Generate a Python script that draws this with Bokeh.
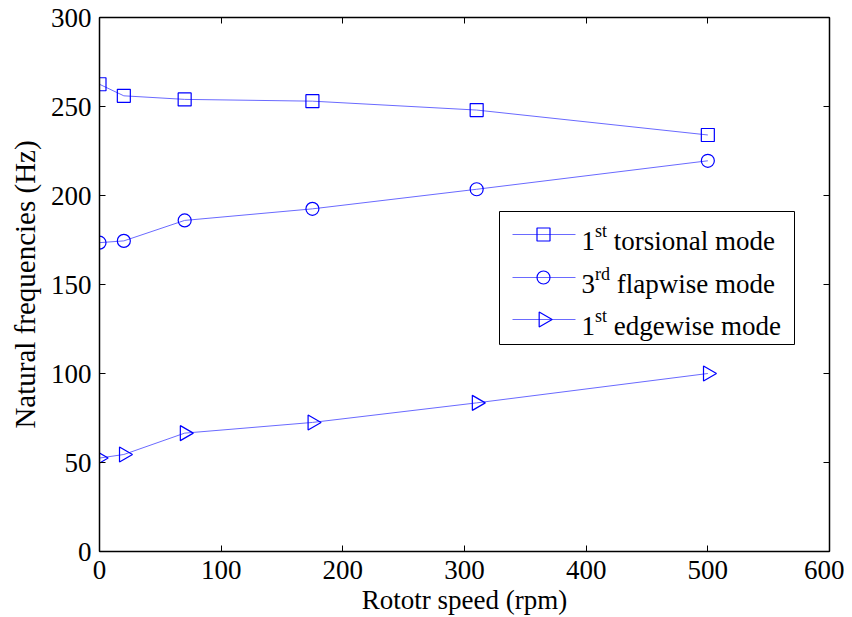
import numpy as np
from bokeh.plotting import figure
from bokeh.models import LinearAxis, FixedTicker, Range1d
from bokeh.core.properties import value
from bokeh.embed import file_html
from bokeh.resources import INLINE

# ---- data ----
speed = [0, 20, 70, 175, 310, 500]
torsional = [262.5, 256, 254, 253, 248, 234]
flapwise = [173.5, 174.5, 186, 192.5, 203.5, 219.5]
edgewise = [52.5, 54.5, 66.5, 72.5, 83.5, 100]
legend_num = ["1", "3", "1"]
legend_sup = ["st", "rd", "st"]
legend_txt = ["torsional mode", "flapwise mode", "edgewise mode"]
x_ticks = [0, 100, 200, 300, 400, 500, 600]
y_ticks = [0, 50, 100, 150, 200, 250, 300]

# ---- style ----
FONT = "Liberation Serif"
FS = 27
SUP_FS = 18
LINE = "#6a6aff"
MARK = "#0000ff"
X0, X1, Y0, Y1 = 0, 600, 0, 300
FW, FH = 730, 534  # frame size in px

p = figure(frame_width=FW, frame_height=FH, output_backend="svg", toolbar_location=None,
           x_range=Range1d(X0, X1), y_range=Range1d(Y0, Y1),
           min_border_left=99, min_border_top=17, min_border_right=15, min_border_bottom=40)
p.xgrid.visible = False
p.ygrid.visible = False
p.outline_line_color = "black"
p.outline_line_width = 1
p.background_fill_color = "white"
p.border_fill_color = "white"

for ax in p.axis:
    ax.major_label_text_font = FONT
    ax.major_label_text_font_size = f"{FS}px"
    ax.major_label_text_color = "black"
    ax.axis_label_text_font = FONT
    ax.axis_label_text_font_size = f"{FS}px"
    ax.axis_label_text_font_style = "normal"
    ax.axis_label_text_color = "black"
    ax.major_tick_in = 6
    ax.major_tick_out = 0
    ax.minor_tick_line_color = None
    ax.axis_line_color = "black"
    ax.axis_line_width = 1.5
    ax.major_tick_line_color = "black"

p.xaxis.ticker = FixedTicker(ticks=x_ticks)
p.yaxis.ticker = FixedTicker(ticks=y_ticks)
p.xaxis.axis_label = "Rototr speed (rpm)"
p.yaxis.axis_label = "Natural frequencies (Hz)"
p.yaxis.axis_label_text_font_size = "29px"
p.xaxis.major_label_standoff = 9
p.yaxis.major_label_standoff = 8
p.xaxis.axis_label_standoff = 3
p.yaxis.axis_label_standoff = 7

for loc, ticks in (("above", x_ticks), ("right", y_ticks)):
    ax = LinearAxis(ticker=FixedTicker(ticks=ticks), major_label_text_font_size="0px",
                    major_tick_in=6, major_tick_out=0, minor_tick_line_color=None,
                    axis_line_color="black", axis_line_width=1.5, major_label_standoff=0)
    ax.major_label_text_color = None
    p.add_layout(ax, loc)

# ---- data series ----
p.line(speed, torsional, line_color=LINE, line_width=1)
p.scatter(speed, torsional, marker="square", size=13, fill_color=None, line_color=MARK, line_width=1.2)
p.line(speed, flapwise, line_color=LINE, line_width=1)
p.scatter(speed, flapwise, marker="circle", size=13, fill_color=None, line_color=MARK, line_width=1.2)
p.line(speed, edgewise, line_color=LINE, line_width=1)
p.scatter(speed, edgewise, marker="triangle", angle=-np.pi / 2, size=15, fill_color=None,
          line_color=MARK, line_width=1.2)

# ---- legend (laid out in frame pixels, converted to data units) ----
def dx(px):
    return X0 + px * (X1 - X0) / FW

def dy(py):  # py measured from the frame top
    return Y0 + (FH - py) * (Y1 - Y0) / FH

box_l, box_r, box_t, box_b = 400, 695, 194, 327
row_y = [217, 260, 302]
base_y = [223, 266, 308]
line_l, line_r, mark_x = 413, 476, 444
text_x = 482
sup_w = {"st": 0.667 * SUP_FS, "rd": 0.833 * SUP_FS}

p.quad(left=[dx(box_l)], right=[dx(box_r)], top=[dy(box_t)], bottom=[dy(box_b)],
       fill_color="white", line_color="black", line_width=1)
p.segment(x0=[dx(line_l)] * 3, x1=[dx(line_r)] * 3, y0=[dy(v) for v in row_y],
          y1=[dy(v) for v in row_y], line_color=LINE, line_width=1)
for marker, ry, ang, sz in zip(["square", "circle", "triangle"], row_y, [0, 0, -np.pi / 2], [13, 13, 15]):
    p.scatter([dx(mark_x)], [dy(ry)], marker=marker, angle=ang, size=sz, fill_color=None,
              line_color=MARK, line_width=1.2)

num_x = [dx(text_x)] * 3
sup_x = [dx(text_x + 0.5 * FS)] * 3
main_x = [dx(text_x + 0.5 * FS + sup_w[s] + 0.25 * FS) for s in legend_sup]
p.text(num_x, [dy(b) for b in base_y], text=legend_num, text_font=value(FONT),
       text_font_size=f"{FS}px", text_baseline="alphabetic", text_align="left", text_color="black")
p.text(sup_x, [dy(b - 10) for b in base_y], text=legend_sup, text_font=value(FONT),
       text_font_size=f"{SUP_FS}px", text_baseline="alphabetic", text_align="left", text_color="black")
p.text(main_x, [dy(b) for b in base_y], text=legend_txt, text_font=value(FONT),
       text_font_size=f"{FS}px", text_baseline="alphabetic", text_align="left", text_color="black")

open("out.html", "w").write(file_html(p, INLINE))
